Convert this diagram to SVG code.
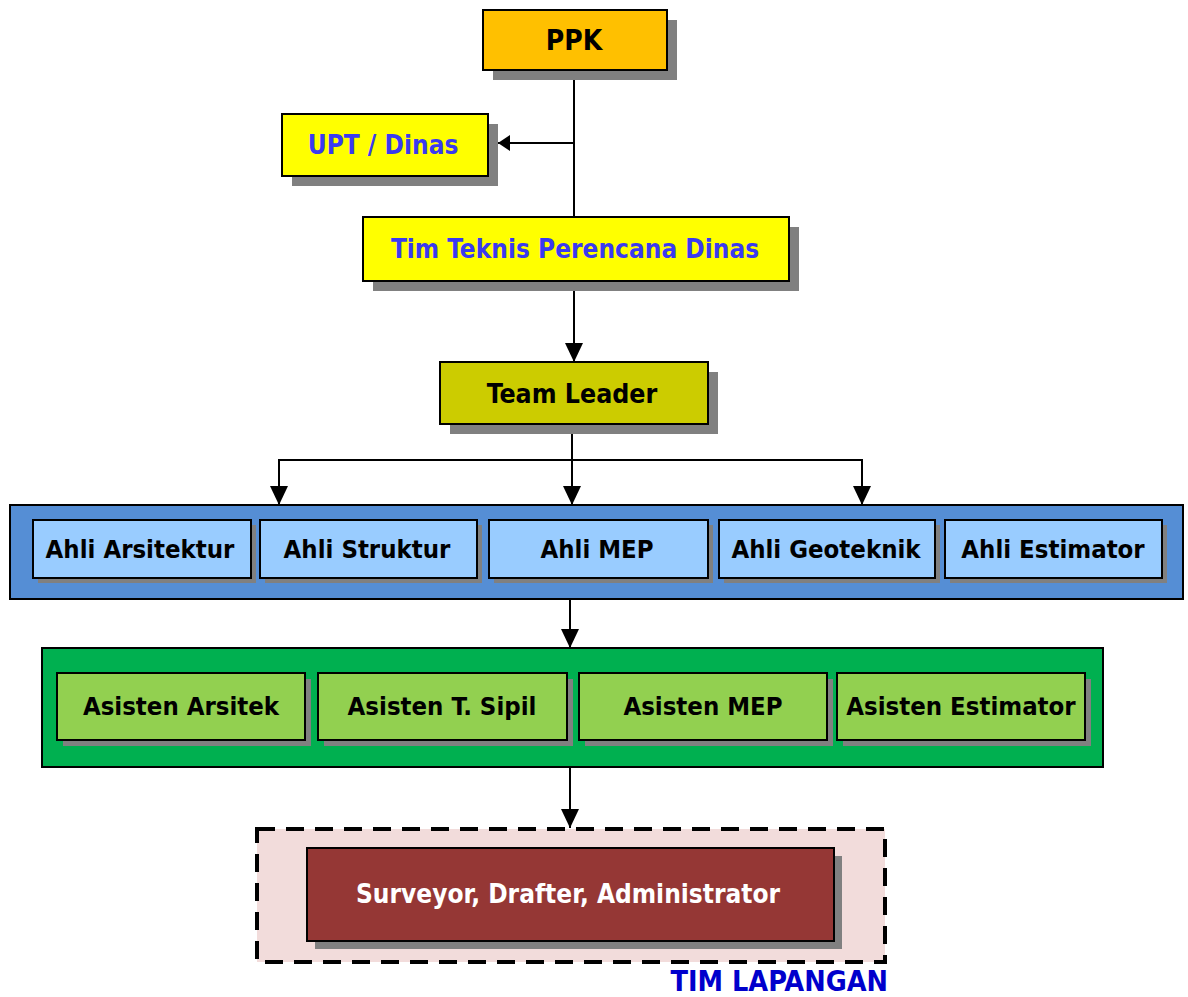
<svg xmlns="http://www.w3.org/2000/svg" width="1188" height="997" viewBox="0 0 1188 997">
<defs>
<style>
text{font-family:"DejaVu Sans Condensed","DejaVu Sans",sans-serif;font-stretch:condensed;font-weight:bold;text-anchor:middle}
.box{stroke:#000;stroke-width:2}
.sh{fill:#808080}
.t26{font-size:26px;fill:#000}
.t25{font-size:25.5px;fill:#000}
.blue{fill:#3A3AF0}
.conn{fill:none;stroke:#000;stroke-width:2}
</style>
<marker id="arr" markerUnits="userSpaceOnUse" markerWidth="19" markerHeight="18" refX="19" refY="9" orient="auto" viewBox="0 0 19 18">
<path d="M0,0 L19,9 L0,18 z" fill="#000"/>
</marker>
<marker id="arrs" markerUnits="userSpaceOnUse" markerWidth="12" markerHeight="16" refX="12" refY="8" orient="auto" viewBox="0 0 12 16">
<path d="M0,0 L12,8 L0,16 z" fill="#000"/>
</marker>
</defs>
<rect width="1188" height="997" fill="#fff"/>

<g id="containers">
<rect x="10" y="505" width="1173" height="94" fill="#558ED5" stroke="#000" stroke-width="2"/>
<rect x="42" y="648" width="1061" height="119" fill="#00B050" stroke="#000" stroke-width="2"/>
<rect x="257" y="829" width="628" height="133" fill="#F2DCDB" stroke="#000" stroke-width="4" stroke-dasharray="18 11"/>
</g>

<g id="connectors">
<path class="conn" d="M574,70 V217"/>
<path class="conn" d="M574,143 H498" marker-end="url(#arrs)"/>
<path class="conn" d="M574,281 V362" marker-end="url(#arr)"/>
<path class="conn" d="M572,424 V505" marker-end="url(#arr)"/>
<path class="conn" d="M572,460 H279 V505" marker-end="url(#arr)"/>
<path class="conn" d="M572,460 H862 V505" marker-end="url(#arr)"/>
<path class="conn" d="M570,599 V648" marker-end="url(#arr)"/>
<path class="conn" d="M570,767 V828" marker-end="url(#arr)"/>
</g>

<g id="ppk">
<rect class="sh" x="493" y="20" width="184" height="60"/>
<rect class="box" x="483" y="10" width="184" height="60" fill="#FFC000"/>
<text class="t26" x="574" y="50" style="font-size:28px">PPK</text>
</g>

<g id="upt">
<rect class="sh" x="292" y="124" width="206" height="62"/>
<rect class="box" x="282" y="114" width="206" height="62" fill="#FFFF00"/>
<text class="t26 blue" x="383" y="154">UPT / Dinas</text>
</g>

<g id="timteknis">
<rect class="sh" x="373" y="227" width="426" height="64"/>
<rect class="box" x="363" y="217" width="426" height="64" fill="#FFFF00"/>
<text class="t26 blue" x="575" y="258">Tim Teknis Perencana Dinas</text>
</g>

<g id="teamleader">
<rect class="sh" x="450" y="372" width="268" height="62"/>
<rect class="box" x="440" y="362" width="268" height="62" fill="#CCCC00"/>
<text class="t26" x="572" y="403" style="font-size:26.5px">Team Leader</text>
</g>

<g id="ahli-arsitektur">
<rect class="sh" x="38" y="525" width="218" height="58"/>
<rect class="box" x="33" y="520" width="218" height="58" fill="#99CCFF"/>
<text class="t25" x="140" y="558">Ahli Arsitektur</text>
</g>
<g id="ahli-struktur">
<rect class="sh" x="265" y="525" width="217" height="58"/>
<rect class="box" x="260" y="520" width="217" height="58" fill="#99CCFF"/>
<text class="t25" x="367" y="558">Ahli Struktur</text>
</g>
<g id="ahli-mep">
<rect class="sh" x="494" y="525" width="219" height="58"/>
<rect class="box" x="489" y="520" width="219" height="58" fill="#99CCFF"/>
<text class="t25" x="597" y="558">Ahli MEP</text>
</g>
<g id="ahli-geoteknik">
<rect class="sh" x="724" y="525" width="216" height="58"/>
<rect class="box" x="719" y="520" width="216" height="58" fill="#99CCFF"/>
<text class="t25" x="826" y="558">Ahli Geoteknik</text>
</g>
<g id="ahli-estimator">
<rect class="sh" x="950" y="525" width="217" height="58"/>
<rect class="box" x="945" y="520" width="217" height="58" fill="#99CCFF"/>
<text class="t25" x="1053" y="558">Ahli Estimator</text>
</g>

<g id="asisten-arsitek">
<rect class="sh" x="63" y="679" width="248" height="67"/>
<rect class="box" x="57" y="673" width="248" height="67" fill="#92D050"/>
<text class="t25" x="181" y="715">Asisten Arsitek</text>
</g>
<g id="asisten-sipil">
<rect class="sh" x="324" y="679" width="249" height="67"/>
<rect class="box" x="318" y="673" width="249" height="67" fill="#92D050"/>
<text class="t25" x="442" y="715">Asisten T. Sipil</text>
</g>
<g id="asisten-mep">
<rect class="sh" x="585" y="679" width="248" height="67"/>
<rect class="box" x="579" y="673" width="248" height="67" fill="#92D050"/>
<text class="t25" x="703" y="715">Asisten MEP</text>
</g>
<g id="asisten-estimator">
<rect class="sh" x="843" y="679" width="248" height="67"/>
<rect class="box" x="837" y="673" width="248" height="67" fill="#92D050"/>
<text class="t25" x="961" y="715">Asisten Estimator</text>
</g>

<g id="surveyor">
<rect class="sh" x="315" y="856" width="527" height="93"/>
<rect class="box" x="307" y="848" width="527" height="93" fill="#953735"/>
<text class="t25" x="568" y="903" style="fill:#fff;font-size:26px">Surveyor, Drafter, Administrator</text>
</g>

<g id="tim-lapangan">
<text x="888" y="991" style="font-size:28.5px;fill:#0000CC;text-anchor:end">TIM LAPANGAN</text>
</g>
</svg>
